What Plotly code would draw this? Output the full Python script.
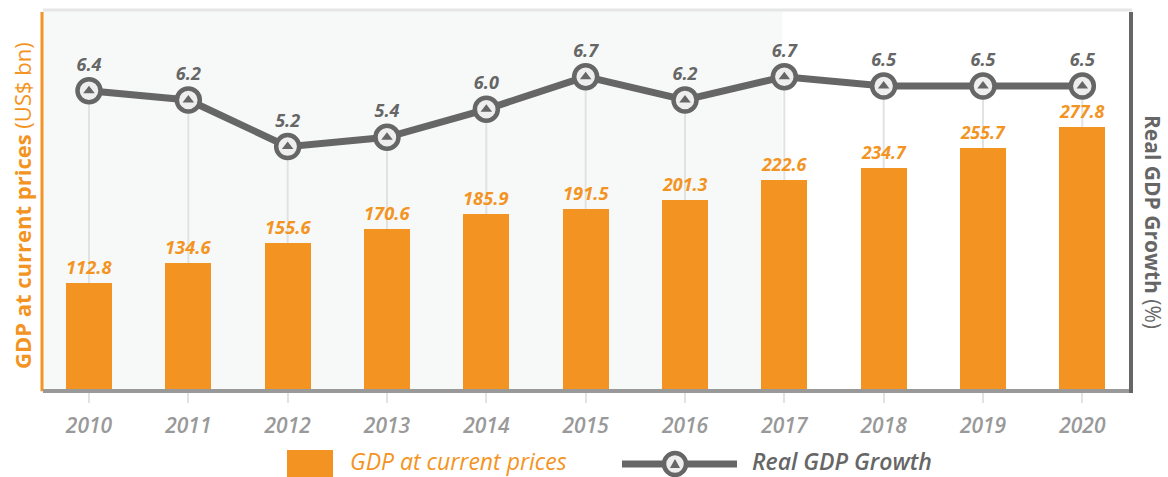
import plotly.graph_objects as go

years = ["2010", "2011", "2012", "2013", "2014", "2015", "2016", "2017", "2018", "2019", "2020"]
gdp = [112.8, 134.6, 155.6, 170.6, 185.9, 191.5, 201.3, 222.6, 234.7, 255.7, 277.8]
growth = [6.4, 6.2, 5.2, 5.4, 6.0, 6.7, 6.2, 6.7, 6.5, 6.5, 6.5]

ORANGE = "#F39422"
DGREY = "#666666"
LGREY = "#999999"
FONT = "Open Sans"

xs = list(range(len(years)))
G_MIN, G_MAX = -0.02, 8.13

fig = go.Figure()

# vertical guide lines from marker down to axis
gx, gy = [], []
for i, g in zip(xs, growth):
    gx += [i, i, None]
    gy += [g, G_MIN, None]
fig.add_trace(go.Scatter(x=gx, y=gy, mode="lines", line=dict(color="#e2e2e2", width=2),
                         hoverinfo="skip", showlegend=False, yaxis="y"))

# growth line
fig.add_trace(go.Scatter(
    x=xs, y=growth, mode="lines+markers+text",
    line=dict(color=DGREY, width=7),
    marker=dict(symbol="circle", size=23, color="#eeeeee", line=dict(color=DGREY, width=4.5)),
    text=[f"{v:.1f}" for v in growth], textposition="top center",
    textfont=dict(family=FONT, size=18, color=DGREY, weight="bold", style="italic"),
    cliponaxis=False, showlegend=False, yaxis="y"))
fig.add_trace(go.Scatter(
    x=xs, y=growth, mode="markers",
    marker=dict(symbol="triangle-up", size=10, color=DGREY, line=dict(width=0)),
    showlegend=False, hoverinfo="skip", yaxis="y", cliponaxis=False))

# bars
fig.add_trace(go.Bar(
    x=xs, y=gdp, width=0.463, marker=dict(color=ORANGE, line=dict(width=0)),
    text=[f"{v:.1f}" for v in gdp], textposition="outside",
    textfont=dict(family=FONT, size=19, color=ORANGE, weight="bold", style="italic"),
    cliponaxis=False, showlegend=False, yaxis="y2"))

L, R, T, B = 43, 36, 10, 87
W, H = 1168, 477
pw, ph = W - L - R, H - T - B

def px(xpix):
    return (xpix - L) / pw

def py(ypix):
    return (H - B - ypix) / ph

shapes = [
    dict(type="rect", xref="x", yref="paper", x0=-0.463, x1=6.98, y0=0, y1=1,
         fillcolor="#f7f9f9", line=dict(width=0), layer="below"),
    dict(type="line", xref="paper", yref="paper", x0=0, x1=1, y0=1, y1=1,
         line=dict(color="#e6e6e6", width=3)),
    dict(type="line", xref="paper", yref="paper", x0=px(42), x1=px(42), y0=-0.003, y1=py(12),
         line=dict(color=ORANGE, width=3)),
    dict(type="line", xref="paper", yref="paper", x0=0, x1=1, y0=py(391), y1=py(391),
         line=dict(color=LGREY, width=4)),
    dict(type="line", xref="paper", yref="paper", x0=px(1131), x1=px(1131), y0=py(393), y1=py(12),
         line=dict(color=DGREY, width=4)),
    # legend: bar swatch
    dict(type="rect", xref="paper", yref="paper", x0=px(287), x1=px(333), y0=py(478), y1=py(450),
         fillcolor=ORANGE, line=dict(width=0)),
    # legend: line
    dict(type="line", xref="paper", yref="paper", x0=px(622), x1=px(737), y0=py(464), y1=py(464),
         line=dict(color=DGREY, width=7)),
    dict(type="circle", xref="paper", yref="paper", x0=px(664), x1=px(686), y0=py(475), y1=py(453),
         fillcolor="#eeeeee", line=dict(color=DGREY, width=4.5)),
    dict(type="path", xref="paper", yref="paper",
         path=f"M {px(670)} {py(468)} L {px(680)} {py(468)} L {px(675)} {py(459)} Z",
         fillcolor=DGREY, line=dict(width=0)),
]

annotations = [
    dict(text="<b>GDP at current prices</b> (US$ bn)", xref="paper", yref="paper",
         x=px(22), y=py(206), textangle=-90, showarrow=False,
         font=dict(family=FONT, size=22, color=ORANGE), xanchor="center", yanchor="middle"),
    dict(text="<b>Real GDP Growth</b> (%)", xref="paper", yref="paper",
         x=px(1153), y=py(222), textangle=90, showarrow=False,
         font=dict(family=FONT, size=21, color=DGREY), xanchor="center", yanchor="middle"),
    dict(text="GDP at current prices", xref="paper", yref="paper", x=px(348), y=py(461),
         xanchor="left", yanchor="middle", showarrow=False,
         font=dict(family=FONT, size=23, color=ORANGE, style="italic")),
    dict(text="Real GDP Growth", xref="paper", yref="paper", x=px(750), y=py(461),
         xanchor="left", yanchor="middle", showarrow=False,
         font=dict(family=FONT, size=23, color=DGREY, style="italic", weight=600)),
]

fig.update_layout(
    width=W, height=H,
    margin=dict(l=L, r=R, t=T, b=B),
    paper_bgcolor="white", plot_bgcolor="white",
    font=dict(family=FONT),
    xaxis=dict(range=[-0.463, 10.5], tickmode="array", tickvals=xs, ticktext=years,
               showgrid=False, zeroline=False, showline=False,
               ticks="outside", ticklen=12, tickwidth=2, tickcolor="#e2e2e2",
               ticklabelstandoff=5,
               tickfont=dict(family=FONT, size=21, color=LGREY, style="italic", weight=600)),
    yaxis=dict(range=[G_MIN, G_MAX], side="right", showgrid=False, zeroline=False,
               showline=False, showticklabels=False, ticks=""),
    yaxis2=dict(range=[0, 402], overlaying="y", side="left", showgrid=False, zeroline=False,
                showline=False, showticklabels=False, ticks=""),
    shapes=shapes, annotations=annotations,
    showlegend=False, bargap=0,
)

fig.write_html("out.html", config={"displayModeBar": False},
               post_script="document.body.style.margin='0';")
